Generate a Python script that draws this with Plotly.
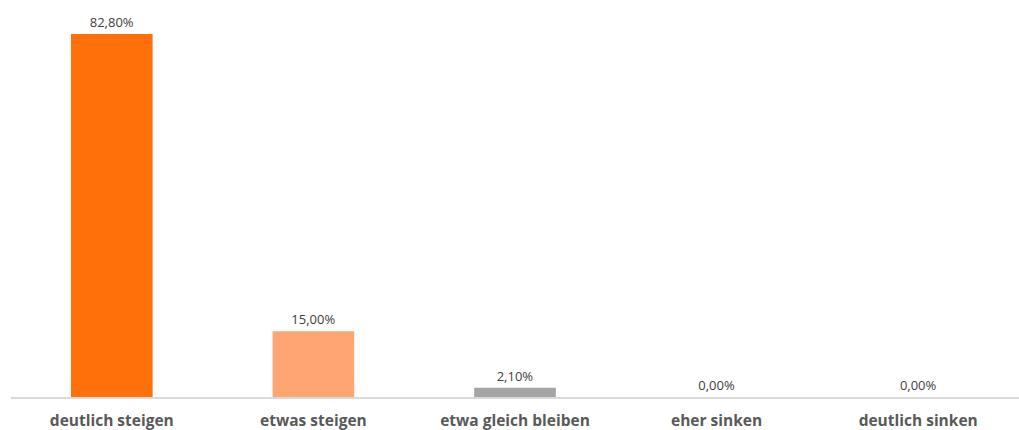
import plotly.graph_objects as go

categories = ["deutlich steigen", "etwas steigen", "etwa gleich bleiben", "eher sinken", "deutlich sinken"]
values = [82.8, 15.0, 2.1, 0.0, 0.0]
labels = ["82,80%", "15,00%", "2,10%", "0,00%", "0,00%"]
colors = ["#FF6F0A", "#FFA571", "#A5A5A5", "#A5A5A5", "#A5A5A5"]

fig = go.Figure(
    go.Bar(
        x=categories,
        y=values,
        text=labels,
        textposition="outside",
        textfont=dict(family="Open Sans, Noto Sans, sans-serif", size=13, color="#404040"),
        marker=dict(color=colors, line=dict(width=0)),
        cliponaxis=False,
        hoverinfo="skip",
    )
)

fig.update_layout(
    width=1019,
    height=430,
    margin=dict(l=11, r=0, t=0, b=33),
    paper_bgcolor="white",
    plot_bgcolor="white",
    bargap=0.595,
    showlegend=False,
    font=dict(family="Open Sans, Noto Sans, sans-serif"),
)
fig.update_xaxes(
    automargin=False,
    showline=True,
    linecolor="#D9D9D9",
    linewidth=1.5,
    showgrid=False,
    ticks="",
    ticklabelstandoff=9,
    tickfont=dict(family="Open Sans, Noto Sans, sans-serif", size=15.5, color="#595959", weight="bold"),
)
fig.update_yaxes(range=[0, 90.56], visible=False, showgrid=False, zeroline=False)

fig.write_html("out.html")
